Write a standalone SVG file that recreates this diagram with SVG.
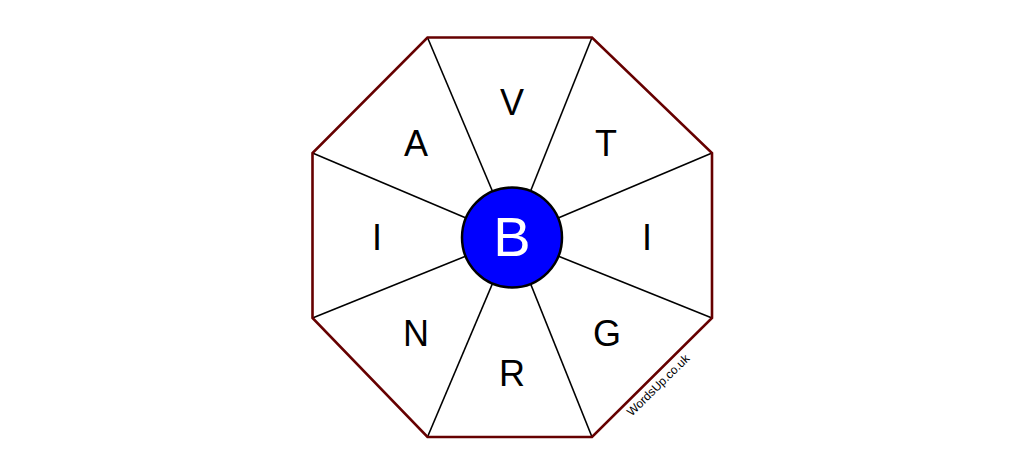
<svg xmlns="http://www.w3.org/2000/svg" width="1024" height="476" viewBox="0 0 1024 476">
<style>
.spoke{stroke:#000;stroke-width:1.6;fill:none}
.oct{fill:none;stroke:#660000;stroke-width:2.6;stroke-linejoin:miter}
.let{font-family:"Liberation Sans",Arial,sans-serif;font-size:36px;fill:#000;text-anchor:middle}
.hub{font-family:"Liberation Sans",Arial,sans-serif;font-size:56px;fill:#fff;text-anchor:middle}
.wm{font-family:"Liberation Sans",Arial,sans-serif;font-size:12px;fill:#000;text-anchor:middle}
</style>
<rect width="1024" height="476" fill="#fff"/>
<g id="connectors">
<line class="spoke" x1="512" y1="237.5" x2="427.5" y2="37.5"/>
<line class="spoke" x1="512" y1="237.5" x2="592" y2="37.5"/>
<line class="spoke" x1="512" y1="237.5" x2="712" y2="153"/>
<line class="spoke" x1="512" y1="237.5" x2="712" y2="318"/>
<line class="spoke" x1="512" y1="237.5" x2="592" y2="437"/>
<line class="spoke" x1="512" y1="237.5" x2="427.5" y2="437"/>
<line class="spoke" x1="512" y1="237.5" x2="312.5" y2="318"/>
<line class="spoke" x1="512" y1="237.5" x2="312.5" y2="153"/>
</g>
<g id="octagon">
<polygon class="oct" points="427.5,37.5 592,37.5 712,153 712,318 592,437 427.5,437 312.5,318 312.5,153"/>
</g>
<g id="node-V"><text class="let" x="512" y="115">V</text></g>
<g id="node-T"><text class="let" x="606" y="156">T</text></g>
<g id="node-I-right"><text class="let" x="647" y="250">I</text></g>
<g id="node-G"><text class="let" x="607" y="346">G</text></g>
<g id="node-R"><text class="let" x="512" y="386">R</text></g>
<g id="node-N"><text class="let" x="416" y="346">N</text></g>
<g id="node-I-left"><text class="let" x="377" y="250">I</text></g>
<g id="node-A"><text class="let" x="416" y="156">A</text></g>
<g id="node-B">
<circle cx="512" cy="237.5" r="50" fill="#0000ff" stroke="#000" stroke-width="2.5"/>
<text class="hub" x="512" y="256">B</text>
</g>
<g id="watermark"><text class="wm" transform="translate(661,388) rotate(-44.5)">WordsUp.co.uk</text></g>
</svg>
